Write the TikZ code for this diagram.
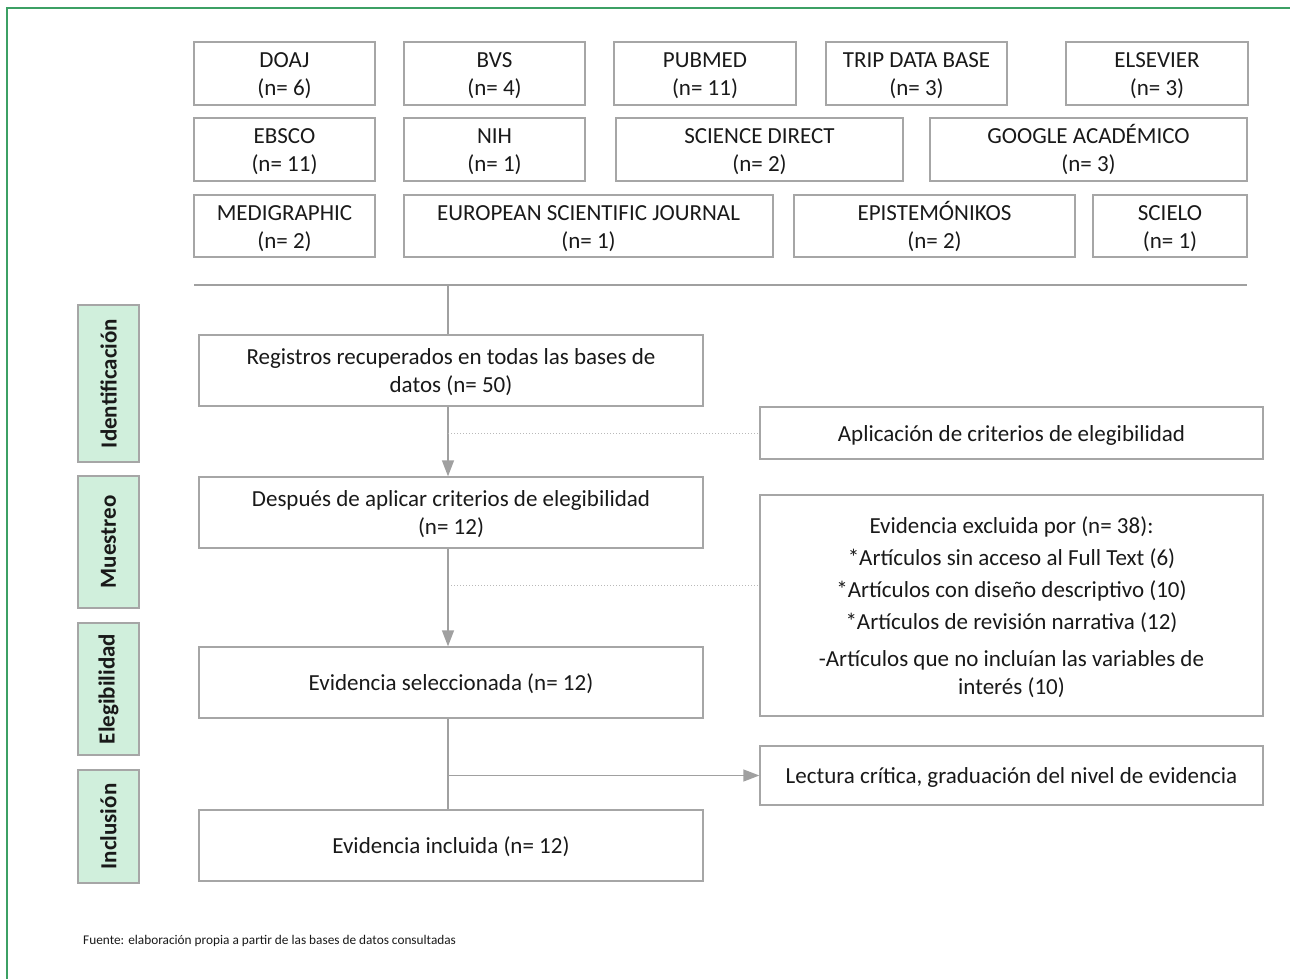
\documentclass[tikz,border=0pt]{standalone}
\usepackage{fontspec}
\setmainfont{Carlito}
\usetikzlibrary{arrows.meta}
\definecolor{framegreen}{RGB}{60,160,100}
\definecolor{boxgray}{RGB}{166,166,166}
\definecolor{phasefill}{RGB}{208,239,220}
\definecolor{arrowgray}{RGB}{160,160,160}
\definecolor{dotgray}{RGB}{185,185,185}
\newcommand{\firstln}[1]{\raisebox{0pt}[21.5pt][0pt]{#1}}
\begin{document}
\begin{tikzpicture}[x=1pt,y=-1pt,
  box/.style={draw=boxgray, line width=1.3pt, inner sep=0pt, align=center,
    font=\fontsize{23}{28}\selectfont, text=black!90,
    execute at end node=\rule[-5pt]{0pt}{5pt}},
  phase/.style={draw=boxgray, line width=1.2pt, fill=phasefill, inner sep=0pt,
    rotate=90, font=\fontsize{23}{27}\selectfont\bfseries, text=black!90},
  conn/.style={draw=arrowgray, line width=1.3pt},
  arr/.style={conn, -{Triangle[length=16pt,width=12pt]}},
  dotline/.style={draw=dotgray, line width=1pt, dotted}]
\useasboundingbox (0,0) rectangle (1290,979);
% frame
\coordinate (fb) at (7,979);
\coordinate (fc) at (7,8);
\coordinate (fr) at (1290,8);
\draw[framegreen, line width=1.2pt] (fb) -- (fc) -- (fr);
% database row 1
\node[box, minimum width=181pt, minimum height=63pt] (doaj) at (284.5,73.5) {\firstln{DOAJ}\\(n= 6)};
\node[box, minimum width=181pt, minimum height=63pt] (bvs) at (494.5,73.5) {\firstln{BVS}\\(n= 4)};
\node[box, minimum width=182pt, minimum height=63pt] (pubmed) at (705,73.5) {\firstln{PUBMED}\\(n= 11)};
\node[box, minimum width=181pt, minimum height=63pt] (trip) at (916.5,73.5) {\firstln{TRIP DATA BASE}\\(n= 3)};
\node[box, minimum width=182pt, minimum height=63pt] (elsevier) at (1157,73.5) {\firstln{ELSEVIER}\\(n= 3)};
% row 2
\node[box, minimum width=181pt, minimum height=63pt] (ebsco) at (284.5,149.5) {\firstln{EBSCO}\\(n= 11)};
\node[box, minimum width=181pt, minimum height=63pt] (nih) at (494.5,149.5) {\firstln{NIH}\\(n= 1)};
\node[box, minimum width=287pt, minimum height=63pt] (scidir) at (759.5,149.5) {\firstln{SCIENCE DIRECT}\\(n= 2)};
\node[box, minimum width=317pt, minimum height=63pt] (google) at (1088.5,149.5) {\firstln{GOOGLE ACADÉMICO}\\(n= 3)};
% row 3
\node[box, minimum width=181pt, minimum height=62pt] (medig) at (284.5,226) {\firstln{MEDIGRAPHIC}\\(n= 2)};
\node[box, minimum width=369pt, minimum height=62pt] (esj) at (588.5,226) {\firstln{EUROPEAN SCIENTIFIC JOURNAL}\\(n= 1)};
\node[box, minimum width=281pt, minimum height=62pt] (epist) at (934.5,226) {\firstln{EPISTEMÓNIKOS}\\(n= 2)};
\node[box, minimum width=154pt, minimum height=62pt] (scielo) at (1170,226) {\firstln{SCIELO}\\(n= 1)};
% horizontal rule
\coordinate (hl) at (194,285);
\coordinate (hr) at (1247,285);
\coordinate (spine) at (448,285);
\draw[conn] (hl) -- (hr);
% phase labels
\node[phase, minimum width=157pt, minimum height=61pt] (pid) at (108.5,383.5) {Identificación};
\node[phase, minimum width=132pt, minimum height=61pt] (pmu) at (108.5,542) {Muestreo};
\node[phase, minimum width=132pt, minimum height=61pt] (pel) at (108.5,689) {Elegibilidad};
\node[phase, minimum width=113pt, minimum height=61pt] (pin) at (108.5,826.5) {Inclusión};
% main column
\node[box, minimum width=504pt, minimum height=71pt] (reg) at (451,370.5) {\firstln{Registros recuperados en todas las bases de}\\datos (n= 50)};
\node[box, minimum width=504pt, minimum height=71pt] (desp) at (451,512.5) {\firstln{Después de aplicar criterios de elegibilidad}\\(n= 12)};
\node[box, minimum width=504pt, minimum height=71pt] (sel) at (451,682.5) {\firstln{Evidencia seleccionada (n= 12)}};
\node[box, minimum width=504pt, minimum height=71pt] (inc) at (451,845.5) {\firstln{Evidencia incluida (n= 12)}};
% right column
\node[box, minimum width=503pt, minimum height=52pt] (apl) at (1011.5,433) {\firstln{Aplicación de criterios de elegibilidad}};
\node[box, minimum width=503pt, minimum height=221pt, font=\fontsize{23}{32}\selectfont] (excl) at (1011.5,605.5)
  {\firstln{Evidencia excluida por (n= 38):}\\*Artículos sin acceso al Full Text (6)\\*Artículos con diseño descriptivo (10)\\*Artículos de revisión narrativa (12)\\[5pt]-Artículos que no incluían las variables de\\[-4pt]interés (10)};
\node[box, minimum width=503pt, minimum height=59pt] (lect) at (1011.5,775.5) {\firstln{Lectura crítica, graduación del nivel de evidencia}};
% connectors
\draw[conn] (spine) -- (spine |- reg.north);
\draw[arr] (spine |- reg.south) -- (spine |- desp.north);
\draw[dotline] (spine |- apl.west) -- (apl.west);
\coordinate (d2) at (448,585);
\draw[dotline] (d2) -- (d2 -| excl.west);
\draw[arr] (spine |- desp.south) -- (spine |- sel.north);
\draw[conn] (spine |- sel.south) -- (spine |- inc.north);
\draw[arr] (spine |- lect.west) -- (lect.west);
% source
\node[anchor=west, inner sep=0pt, font=\fontsize{13.3}{15}\selectfont, text=black!90] (src) at (83,941)
  {Fuente: elaboración propia a partir de las bases de datos consultadas};
\end{tikzpicture}
\end{document}
